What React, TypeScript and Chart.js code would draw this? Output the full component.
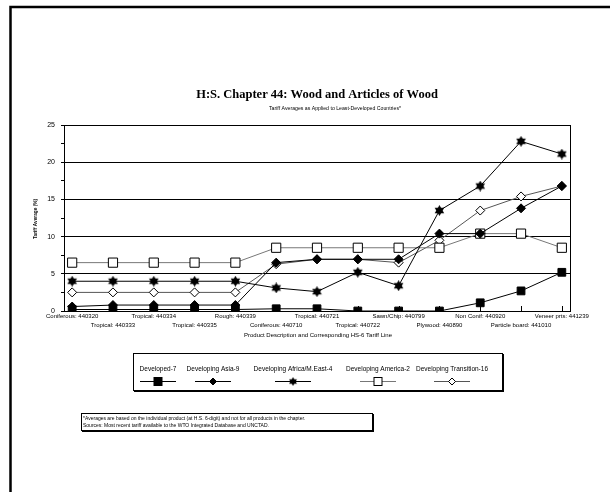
import React, { useEffect, useRef } from "react";
import { Chart, registerables } from "chart.js";

Chart.register(...registerables);

const categories = [
  "Coniferous: 440320",
  "Tropical: 440333",
  "Tropical: 440334",
  "Tropical: 440335",
  "Rough: 440339",
  "Coniferous: 440710",
  "Tropical: 440721",
  "Tropical: 440722",
  "Sawn/Chip: 440799",
  "Plywood: 440890",
  "Non Conif: 440920",
  "Particle board: 441010",
  "Veneer prts: 441239",
];

const developed = [0.2, 0.2, 0.2, 0.2, 0.2, 0.3, 0.3, 0, 0, 0, 1.1, 2.7, 5.2];
const asia = [0.6, 0.8, 0.8, 0.8, 0.8, 6.5, 6.95, 6.95, 6.95, 10.4, 10.4, 13.8, 16.8];
const africa = [4, 4, 4, 4, 4, 3.1, 2.6, 5.2, 3.4, 13.5, 16.8, 22.8, 21.1];
const america = [6.5, 6.5, 6.5, 6.5, 6.5, 8.5, 8.5, 8.5, 8.5, 8.5, 10.4, 10.4, 8.5];
const transition = [2.5, 2.5, 2.5, 2.5, 2.5, 6.3, 6.95, 6.95, 6.5, 9.5, 13.5, 15.4, 16.8];

const seriesLabels = [
  "Developed-7",
  "Developing Asia-9",
  "Developing Africa/M.East-4",
  "Developing America-2",
  "Developing Transition-16",
];

const yMin = 0;
const yMax = 25;
const yStep = 2.5;
const yLabelStep = 5;

const titleText = "H:S. Chapter 44: Wood and Articles of Wood";
const subtitleText = "Tariff Averages as Applied to Least-Developed Countries*";
const yTitleText = "Tariff Average (%)";
const xTitleText = "Product Description and Corresponding HS-6 Tariff Line";
const footLines = [
  "*Averages are based on the individual product (at H.S. 6-digit) and not for all products in the chapter.",
  "Sources: Most recent tariff available to the WTO Integrated Database and UNCTAD.",
];

const SANS = '"Liberation Sans", Arial, sans-serif';
const SERIF = '"Liberation Serif", "Times New Roman", serif';

function makeStar(size: number): HTMLCanvasElement {
  const c = document.createElement("canvas");
  c.width = size;
  c.height = size;
  const g = c.getContext("2d")!;
  const r = size / 2;
  g.fillStyle = "#000";
  const tri = (start: number) => {
    g.beginPath();
    for (let k = 0; k < 3; k++) {
      const ang = start + (k * 2 * Math.PI) / 3;
      const px = r + Math.cos(ang) * r;
      const py = r + Math.sin(ang) * r;
      if (k === 0) g.moveTo(px, py);
      else g.lineTo(px, py);
    }
    g.closePath();
    g.fill();
  };
  tri(-Math.PI / 2);
  tri(Math.PI / 2);
  return c;
}

export default function App() {
  const ref = useRef<HTMLCanvasElement | null>(null);

  useEffect(() => {
    if (!ref.current) return;
    const star = makeStar(11);

    const toXY = (arr: number[]) => arr.map((v, i) => ({ x: i, y: v }));

    const styles = [
      { line: "#000", style: "rect" as any, radius: 5.5, bg: "#000" },
      { line: "#000", style: "rectRot" as any, radius: 4.5, bg: "#000" },
      { line: "#000", style: star as any, radius: 5, bg: "#000" },
      { line: "#777", style: "rect" as any, radius: 6.5, bg: "#fff" },
      { line: "#555", style: "rectRot" as any, radius: 4.5, bg: "#fff" },
    ];
    const seriesData = [developed, asia, africa, america, transition];

    const deco = {
      id: "deco",
      afterDraw(chart: any) {
        const ctx = chart.ctx as CanvasRenderingContext2D;
        const a = chart.chartArea;
        const xs = chart.scales.x;
        ctx.save();
        ctx.strokeStyle = "#000";
        ctx.fillStyle = "#000";
        ctx.lineWidth = 1;
        // plot border
        ctx.strokeRect(a.left + 0.5, a.top + 0.5, a.right - a.left, a.bottom - a.top);
        // inner x ticks
        categories.forEach((_, i) => {
          const px = Math.round(xs.getPixelForValue(i)) + 0.5;
          ctx.beginPath();
          ctx.moveTo(px, a.bottom);
          ctx.lineTo(px, a.bottom - 5);
          ctx.stroke();
        });
        // outer frame
        ctx.lineWidth = 2.5;
        ctx.strokeRect(10.5, 7, 720, 600);
        ctx.lineWidth = 1;

        // titles
        ctx.textAlign = "center";
        ctx.textBaseline = "middle";
        ctx.font = `bold 12.5px ${SERIF}`;
        ctx.fillText(titleText, 317, 95, 245);
        ctx.font = `5.5px ${SANS}`;
        ctx.fillText(subtitleText, 335, 108, 132);
        ctx.font = `6px ${SANS}`;
        ctx.fillText(xTitleText, 318, 335, 152);
        ctx.save();
        ctx.translate(35, 219);
        ctx.rotate(-Math.PI / 2);
        ctx.font = `bold 5.5px ${SANS}`;
        ctx.fillText(yTitleText, 0, 0, 40);
        ctx.restore();

        // legend box
        ctx.strokeRect(133.5, 353.5, 369, 37);
        ctx.beginPath();
        ctx.moveTo(134, 391.5);
        ctx.lineTo(504, 391.5);
        ctx.moveTo(503.5, 354);
        ctx.lineTo(503.5, 392);
        ctx.stroke();
        const centers = [158, 213, 293, 378, 452];
        seriesLabels.forEach((lab, i) => {
          const cx = centers[i];
          ctx.font = `6.5px ${SANS}`;
          ctx.fillStyle = "#000";
          ctx.fillText(lab, cx, 369);
          const ly = 381.5;
          ctx.strokeStyle = styles[i].line;
          ctx.beginPath();
          ctx.moveTo(cx - 18, ly);
          ctx.lineTo(cx + 18, ly);
          ctx.stroke();
          ctx.strokeStyle = "#000";
          const st = styles[i];
          if (st.style === "rect") {
            const s = 4;
            ctx.fillStyle = st.bg;
            ctx.fillRect(cx - s, ly - s, 2 * s, 2 * s);
            ctx.strokeRect(cx - s, ly - s, 2 * s, 2 * s);
          } else if (st.style === "rectRot") {
            const r = 3.5;
            ctx.fillStyle = st.bg;
            ctx.beginPath();
            ctx.moveTo(cx, ly - r);
            ctx.lineTo(cx + r, ly);
            ctx.lineTo(cx, ly + r);
            ctx.lineTo(cx - r, ly);
            ctx.closePath();
            ctx.fill();
            ctx.stroke();
          } else {
            ctx.drawImage(star, cx - 4.5, ly - 4.5, 9, 9);
          }
        });

        // footnote box
        ctx.fillStyle = "#000";
        ctx.strokeRect(81.5, 413.5, 291, 17);
        ctx.beginPath();
        ctx.moveTo(82, 431.5);
        ctx.lineTo(374, 431.5);
        ctx.moveTo(373.5, 414);
        ctx.lineTo(373.5, 432);
        ctx.stroke();
        ctx.textAlign = "left";
        ctx.font = `5px ${SANS}`;
        ctx.fillText(footLines[0], 83, 418.5, 288);
        ctx.fillText(footLines[1], 83, 425.5, 288);
        ctx.restore();
      },
    };

    const chart = new Chart(ref.current, {
      type: "line",
      data: {
        datasets: seriesData.map((arr, i) => ({
          label: seriesLabels[i],
          data: toXY(arr),
          borderColor: styles[i].line,
          borderWidth: 1,
          pointStyle: styles[i].style,
          pointRadius: styles[i].radius,
          pointBackgroundColor: styles[i].bg,
          pointBorderColor: "#000",
          pointBorderWidth: 1,
          fill: false,
          tension: 0,
        })),
      },
      options: {
        animation: false,
        responsive: false,
        maintainAspectRatio: false,
        layout: { padding: { left: 0, top: 125, right: 40, bottom: 0 } },
        plugins: {
          legend: { display: false },
          title: { display: false },
          tooltip: { enabled: false },
        },
        scales: {
          x: {
            type: "linear",
            min: -0.2,
            max: 12.2,
            afterBuildTicks: (s: any) => {
              s.ticks = categories.map((_, i) => ({ value: i }));
            },
            afterFit: (s: any) => {
              s.height = 181;
            },
            ticks: {
              autoSkip: false,
              maxRotation: 0,
              minRotation: 0,
              padding: 1,
              color: "#000",
              font: { family: SANS, size: 6, lineHeight: 1.45 },
              callback: (v: any) => {
                const i = Math.round(Number(v));
                const lab = categories[i] ?? "";
                return i % 2 === 0 ? [lab, ""] : ["", lab];
              },
            },
            grid: { display: false, drawTicks: false },
            border: { display: true, color: "#000" },
          },
          y: {
            min: yMin,
            max: yMax,
            afterFit: (s: any) => {
              s.width = 64;
            },
            ticks: {
              stepSize: yStep,
              padding: 6,
              color: "#000",
              font: { family: SANS, size: 7 },
              callback: (v: any) => (Number(v) % yLabelStep === 0 ? String(v) : ""),
            },
            grid: {
              color: (c: any) =>
                c.tick && c.tick.value % yLabelStep === 0 ? "#000" : "rgba(0,0,0,0)",
              tickColor: "#000",
              tickLength: 3,
              lineWidth: 1,
            },
            border: { display: true, color: "#000" },
          },
        },
      },
      plugins: [deco],
    });

    return () => chart.destroy();
  }, []);

  return (
    <div style={{ position: "fixed", left: 0, top: 0, width: 610, height: 492, background: "#fff" }}>
      <canvas ref={ref} width={610} height={492} style={{ width: 610, height: 492, display: "block" }} />
    </div>
  );
}
